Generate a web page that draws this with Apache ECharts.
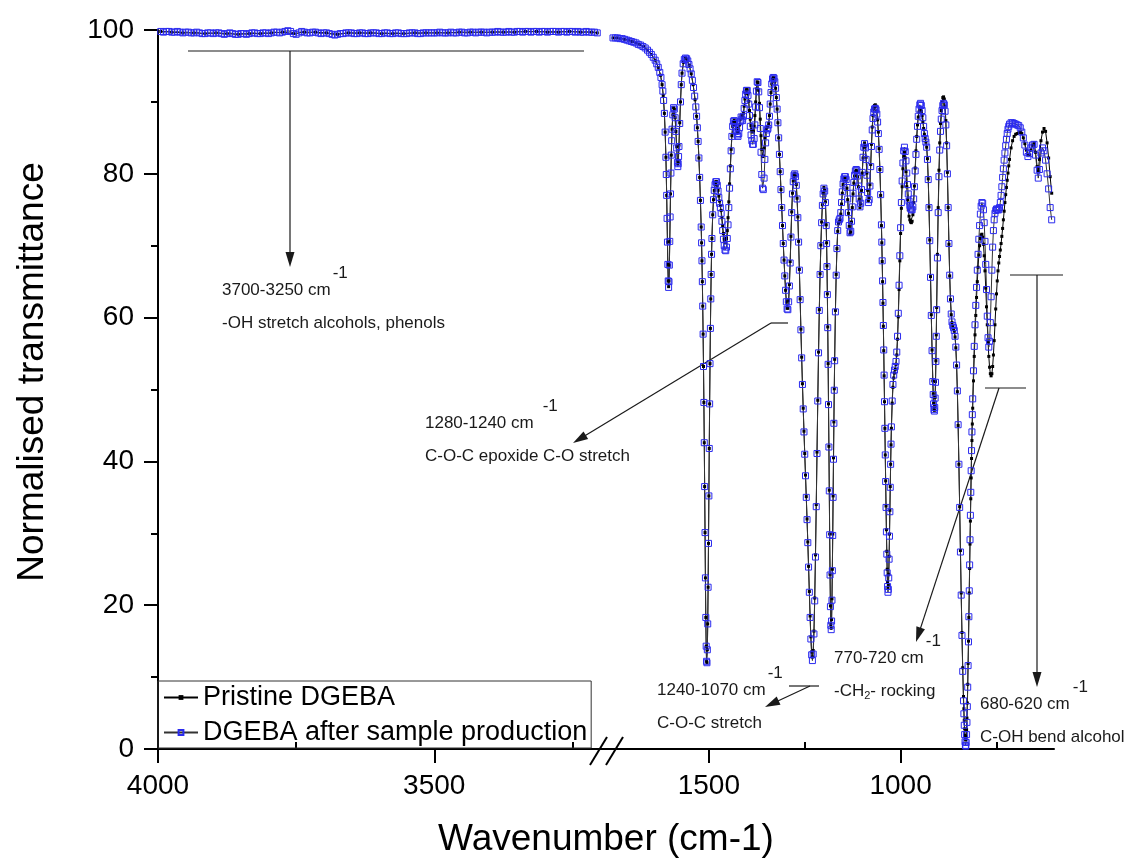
<!DOCTYPE html>
<html>
<head>
<meta charset="utf-8">
<title>FTIR spectra of DGEBA</title>
<script src="https://cdn.jsdelivr.net/npm/echarts@6/dist/echarts.min.js"></script>
<style>
  html, body { margin: 0; padding: 0; background: #ffffff; }
  #chart { width: 1129px; height: 862px; }
</style>
</head>
<body>
<div id="chart"></div>
<script>
// ---- Spectra: [wavenumber (cm-1), normalised transmittance] ----
// High-wavenumber window (4000-3200 cm-1)
const highAfter = [
  [3995,99.8],[3990,99.7],[3985,99.8],[3980,99.8],[3975,99.7],[3970,99.7],[3965,99.8],[3960,99.7],[3955,99.6],[3950,99.7],
  [3945,99.7],[3940,99.6],[3935,99.6],[3930,99.7],[3925,99.6],[3920,99.5],[3915,99.5],[3910,99.6],[3905,99.6],[3900,99.5],
  [3895,99.6],[3890,99.6],[3885,99.5],[3880,99.4],[3875,99.5],[3870,99.6],[3865,99.5],[3860,99.4],[3855,99.4],[3850,99.5],
  [3845,99.5],[3840,99.4],[3835,99.5],[3830,99.6],[3825,99.6],[3820,99.5],[3815,99.5],[3810,99.6],[3805,99.6],[3800,99.5],
  [3795,99.6],[3790,99.7],[3785,99.7],[3780,99.6],[3775,99.7],[3770,99.8],[3765,99.9],[3760,99.8],[3755,99.5],[3750,99.4],
  [3745,99.6],[3740,99.8],[3735,99.7],[3730,99.6],[3725,99.6],[3720,99.7],[3715,99.7],[3710,99.6],[3705,99.5],[3700,99.6],
  [3695,99.6],[3690,99.5],[3685,99.4],[3680,99.3],[3675,99.4],[3670,99.5],[3665,99.5],[3660,99.6],[3655,99.6],[3650,99.6],
  [3645,99.5],[3640,99.5],[3635,99.6],[3630,99.6],[3625,99.5],[3620,99.5],[3615,99.6],[3610,99.6],[3605,99.6],[3600,99.5],
  [3595,99.5],[3590,99.6],[3585,99.6],[3580,99.5],[3575,99.5],[3570,99.6],[3565,99.6],[3560,99.5],[3555,99.5],[3550,99.5],
  [3545,99.6],[3540,99.6],[3535,99.6],[3530,99.5],[3525,99.5],[3520,99.6],[3515,99.6],[3510,99.6],[3505,99.6],[3500,99.6],
  [3495,99.6],[3490,99.7],[3485,99.6],[3480,99.6],[3475,99.6],[3470,99.7],[3465,99.6],[3460,99.6],[3455,99.7],[3450,99.7],
  [3445,99.6],[3440,99.6],[3435,99.7],[3430,99.7],[3425,99.6],[3420,99.7],[3415,99.7],[3410,99.7],[3405,99.6],[3400,99.7],
  [3395,99.7],[3390,99.7],[3385,99.8],[3380,99.7],[3375,99.7],[3370,99.7],[3365,99.8],[3360,99.7],[3355,99.7],[3350,99.8],
  [3345,99.8],[3340,99.7],[3335,99.8],[3330,99.8],[3325,99.7],[3320,99.8],[3315,99.8],[3310,99.7],[3305,99.8],[3300,99.8],
  [3295,99.7],[3290,99.8],[3285,99.8],[3280,99.8],[3275,99.7],[3270,99.8],[3265,99.8],[3260,99.7],[3255,99.8],[3250,99.8],
  [3245,99.7],[3240,99.8],[3235,99.7],[3230,99.7],[3225,99.8],[3220,99.7],[3215,99.7],[3210,99.7],[3205,99.6]
];
const highPristine = [
  [3995,99.8],[3975,99.7],[3955,99.6],[3935,99.6],[3915,99.5],[3895,99.6],[3875,99.5],[3855,99.4],[3835,99.5],[3815,99.5],
  [3795,99.6],[3775,99.7],[3755,99.5],[3735,99.7],[3715,99.7],[3695,99.6],[3675,99.4],[3655,99.6],[3635,99.6],[3615,99.6],
  [3595,99.5],[3575,99.5],[3555,99.5],[3535,99.6],[3515,99.6],[3495,99.6],[3475,99.6],[3455,99.7],[3435,99.7],[3415,99.7],
  [3395,99.7],[3375,99.7],[3355,99.7],[3335,99.8],[3315,99.8],[3295,99.7],[3275,99.7],[3255,99.8],[3235,99.7],[3215,99.7],
  [3205,99.6]
];

// Fingerprint window (1750-600 cm-1)
const fpAfter = [
  [1750,98.9],[1744,98.9],[1738,98.9],[1732,98.8],[1726,98.8],[1720,98.7],[1714,98.6],[1708,98.5],[1702,98.4],[1696,98.3],
  [1690,98.2],[1684,98.0],[1678,97.9],[1672,97.7],[1666,97.5],[1660,97.2],[1655,96.9],[1650,96.6],[1645,96.2],[1640,95.8],
  [1636,95.3],[1632,94.8],[1628,94.1],[1625,93.4],[1622,92.4],[1620,91.5],[1618,90.2],[1616,88.4],[1614,85.8],[1612,82.3],
  [1611,79.9],[1610,77.0],[1609,73.8],[1608,70.5],[1607,67.4],[1606,65.1],[1605,64.2],[1604,65.0],[1603,67.3],[1602,70.6],
  [1601,74.0],[1600,77.2],[1599,80.1],[1598,82.6],[1597,84.6],[1596,86.2],[1594,88.2],[1592,89.2],[1590,89.0],[1588,87.8],
  [1586,85.9],[1584,83.6],[1582,81.6],[1581,81.0],[1580,81.4],[1579,82.4],[1578,83.8],[1576,87.0],[1574,90.0],[1572,92.4],
  [1570,94.0],[1567,95.3],[1564,95.9],[1561,96.1],[1558,96.0],[1555,95.7],[1552,95.2],[1549,94.6],[1546,93.9],[1543,93.0],
  [1540,92.0],[1537,90.8],[1534,89.3],[1532,88.0],[1530,86.4],[1528,84.5],[1526,82.2],[1524,79.5],[1522,76.3],[1520,72.6],
  [1519,70.4],[1518,67.9],[1517,65.0],[1516,61.6],[1515,57.7],[1514,53.2],[1513,48.2],[1512,42.6],[1511,36.5],[1510,30.1],
  [1509,23.8],[1508,18.3],[1507,14.3],[1506,12.2],[1505,12.0],[1504,13.8],[1503,17.4],[1502,22.5],[1501,28.6],[1500,35.2],
  [1499,41.8],[1498,48.0],[1497,53.6],[1496,58.5],[1495,62.6],[1494,66.0],[1493,68.8],[1492,71.0],[1490,74.3],[1488,76.4],
  [1486,77.7],[1484,78.5],[1482,78.9],[1480,78.9],[1478,78.4],[1476,77.6],[1474,76.7],[1472,75.9],[1470,75.3],[1468,74.5],
  [1466,73.4],[1464,72.1],[1462,70.9],[1460,70.0],[1458,69.4],[1456,69.3],[1454,69.8],[1452,71.0],[1450,72.9],[1448,75.3],
  [1446,78.0],[1444,80.7],[1442,83.2],[1440,85.2],[1438,86.6],[1436,87.3],[1434,87.4],[1432,87.0],[1430,86.4],[1428,85.9],
  [1426,85.4],[1424,85.2],[1422,85.6],[1420,86.4],[1418,87.3],[1416,87.9],[1414,87.6],[1412,87.4],[1410,88.0],[1408,89.1],
  [1406,90.2],[1404,91.1],[1402,91.6],[1400,91.6],[1398,90.9],[1396,89.7],[1394,88.1],[1392,86.6],[1390,85.4],[1388,84.6],
  [1386,84.1],[1384,84.1],[1382,84.9],[1380,86.8],[1378,89.3],[1376,91.5],[1374,92.8],[1372,92.7],[1370,91.4],[1368,89.2],
  [1366,86.3],[1364,83.0],[1362,79.9],[1360,78.0],[1358,77.8],[1356,79.4],[1354,82.0],[1352,84.3],[1350,85.6],[1348,86.1],
  [1346,86.3],[1344,86.8],[1342,88.0],[1340,89.7],[1338,91.3],[1336,92.5],[1334,93.2],[1332,93.4],[1330,93.3],[1328,92.8],
  [1326,91.9],[1324,90.6],[1322,89.0],[1320,87.1],[1318,85.0],[1316,82.7],[1314,80.3],[1312,77.8],[1310,75.3],[1308,72.8],
  [1306,70.3],[1304,68.0],[1302,65.8],[1300,63.8],[1298,62.2],[1296,61.2],[1294,61.1],[1292,62.2],[1290,64.4],[1288,67.6],
  [1286,71.2],[1284,74.6],[1282,77.2],[1280,78.9],[1278,79.8],[1276,80.0],[1274,79.6],[1272,78.4],[1270,76.5],[1268,73.9],
  [1266,70.5],[1264,66.6],[1262,62.5],[1260,58.3],[1258,54.4],[1256,50.7],[1254,47.3],[1252,44.1],[1250,41.0],[1248,38.0],
  [1246,35.0],[1244,31.9],[1242,28.7],[1240,25.3],[1238,21.8],[1236,18.3],[1234,15.3],[1232,13.1],[1230,12.3],[1228,13.2],
  [1226,16.0],[1224,20.6],[1222,26.7],[1220,33.7],[1218,41.1],[1216,48.4],[1214,55.1],[1212,61.0],[1210,66.0],[1208,70.0],
  [1206,73.2],[1204,75.6],[1202,77.2],[1200,78.0],[1198,77.6],[1196,76.0],[1194,72.8],[1193,70.3],[1192,67.1],[1191,63.2],
  [1190,58.6],[1189,53.5],[1188,47.9],[1187,42.0],[1186,35.9],[1185,29.8],[1184,24.2],[1183,19.8],[1182,17.2],[1181,16.6],
  [1180,17.8],[1179,20.7],[1178,24.8],[1177,29.7],[1176,35.0],[1175,40.3],[1174,45.3],[1173,49.9],[1172,54.0],[1170,60.8],
  [1168,65.9],[1166,69.6],[1164,72.1],[1162,73.3],[1160,73.6],[1158,73.8],[1156,74.6],[1154,76.0],[1152,77.5],[1150,78.6],
  [1148,79.3],[1146,79.6],[1144,79.6],[1142,79.2],[1140,78.1],[1138,76.5],[1136,74.6],[1134,72.8],[1132,71.8],[1130,72.0],
  [1128,73.4],[1126,75.4],[1124,77.3],[1122,78.8],[1120,79.8],[1118,80.4],[1116,80.6],[1114,80.5],[1112,79.7],[1110,78.3],
  [1108,76.5],[1106,75.4],[1104,75.9],[1102,77.8],[1100,80.2],[1098,82.3],[1096,83.7],[1094,84.2],[1092,83.6],[1090,82.0],
  [1088,79.8],[1086,77.4],[1084,76.0],[1082,76.4],[1080,78.3],[1078,81.0],[1076,83.8],[1074,86.1],[1072,87.7],[1070,88.6],
  [1068,89.0],[1066,89.1],[1064,88.9],[1062,88.3],[1060,87.2],[1058,85.6],[1056,83.4],[1054,80.6],[1052,77.1],[1050,72.9],
  [1049,70.5],[1048,67.9],[1047,65.1],[1046,62.1],[1045,58.9],[1044,55.5],[1043,52.0],[1042,48.3],[1041,44.6],[1040,40.9],
  [1039,37.2],[1038,33.6],[1037,30.2],[1036,27.1],[1035,24.5],[1034,22.6],[1033,21.8],[1032,22.2],[1031,23.8],[1030,26.4],
  [1029,29.6],[1028,33.0],[1027,36.4],[1026,39.6],[1025,42.4],[1024,44.8],[1022,48.4],[1020,50.7],[1018,52.0],[1016,52.7],
  [1014,53.2],[1012,53.9],[1010,55.2],[1008,57.4],[1006,60.6],[1004,64.5],[1002,68.6],[1000,72.5],[998,76.0],[996,79.0],
  [994,81.5],[992,83.2],[990,83.7],[988,83.1],[986,81.8],[984,80.1],[982,78.5],[980,77.2],[978,76.2],[976,75.6],
  [974,75.2],[972,75.0],[970,75.0],[968,75.4],[966,76.5],[964,78.2],[962,80.4],[960,82.7],[958,84.8],[956,86.6],
  [954,88.0],[952,89.0],[950,89.6],[948,89.8],[946,89.5],[944,88.8],[942,87.8],[940,86.6],[938,85.6],[936,84.9],
  [934,84.4],[932,83.7],[930,82.0],[928,79.2],[926,75.3],[924,70.7],[922,65.6],[920,60.3],[918,55.4],[916,51.1],
  [915,49.3],[914,48.0],[913,47.2],[912,47.0],[911,47.5],[910,48.8],[909,51.0],[908,53.9],[907,57.4],[906,61.1],
  [904,68.3],[902,74.6],[900,79.6],[898,83.3],[896,85.9],[894,87.6],[892,88.8],[890,89.5],[888,89.8],[886,89.6],
  [884,88.7],[882,86.8],[880,83.9],[878,80.0],[876,75.3],[874,70.3],[872,65.9],[870,62.6],[868,60.5],[866,59.4],
  [864,58.9],[862,58.6],[860,58.2],[858,57.4],[856,55.9],[854,53.4],[852,49.8],[850,45.1],[848,39.6],[846,33.6],
  [844,27.4],[842,21.4],[840,15.8],[838,10.8],[836,6.7],[835,4.9],[834,3.3],[833,2.0],[832,1.0],[831,0.5],
  [830,0.4],[829,0.9],[828,2.0],[827,3.7],[826,5.9],[825,8.6],[824,11.6],[823,14.9],[822,18.4],[821,22.0],
  [820,25.6],[819,29.1],[818,32.5],[817,35.7],[816,38.7],[815,41.5],[814,44.1],[813,46.5],[812,48.7],[810,52.6],
  [808,56.0],[806,59.0],[804,61.7],[802,64.2],[800,66.6],[798,68.8],[796,70.9],[794,72.8],[792,74.4],[790,75.5],
  [788,76.0],[786,75.9],[784,75.0],[782,73.2],[780,70.6],[778,67.4],[776,63.9],[774,60.2],[772,57.2],[770,55.9],
  [768,56.7],[766,59.3],[764,62.9],[762,66.6],[760,69.8],[758,72.1],[756,73.6],[754,74.5],[752,74.9],[750,75.1],
  [748,75.1],[746,75.0],[744,75.0],[742,75.3],[740,76.0],[738,77.0],[736,78.2],[734,79.5],[732,80.7],[730,81.9],
  [728,82.9],[726,83.9],[724,84.8],[722,85.6],[720,86.2],[718,86.6],[716,86.9],[712,87.1],[708,87.1],[704,87.0],
  [700,86.9],[696,86.8],[692,86.7],[688,86.4],[684,85.8],[680,85.0],[676,84.0],[672,83.0],[668,82.4],[664,82.8],
  [660,83.6],[656,84.0],[652,84.1],[648,82.6],[644,80.5],[641,79.4],[638,80.6],[634,82.9],[630,83.6],[626,83.2],
  [622,81.9],[618,80.0],[614,77.9],[610,75.3],[606,73.6]
];
const fpPristine = [
  [1750,98.9],[1740,98.9],[1730,98.8],[1720,98.7],[1710,98.6],[1700,98.4],[1690,98.2],[1680,98.0],[1670,97.7],[1660,97.2],
  [1650,96.6],[1640,95.8],[1632,94.8],[1626,93.7],[1622,92.4],[1619,90.9],[1616,88.4],[1614,85.8],[1612,82.3],[1610,77.0],
  [1608,70.5],[1607,67.4],[1606,65.1],[1605,64.3],[1604,65.1],[1603,67.3],[1602,70.6],[1600,77.2],[1598,82.6],[1596,86.2],
  [1594,88.2],[1592,89.2],[1590,89.0],[1588,87.8],[1586,85.9],[1584,83.8],[1582,81.9],[1581,81.4],[1580,81.7],[1578,84.0],
  [1576,87.1],[1574,90.0],[1572,92.4],[1570,94.0],[1566,95.5],[1561,96.1],[1556,95.9],[1551,95.1],[1546,93.9],[1541,92.4],
  [1536,90.3],[1532,88.0],[1530,86.4],[1528,84.5],[1526,82.2],[1524,79.5],[1522,76.3],[1520,72.6],[1519,70.4],[1518,67.9],
  [1517,65.0],[1516,61.6],[1515,57.7],[1514,53.2],[1513,48.2],[1512,42.6],[1511,36.5],[1510,30.1],[1509,23.8],[1508,18.3],
  [1507,14.3],[1506,12.2],[1505,12.0],[1504,13.8],[1503,17.4],[1502,22.5],[1501,28.6],[1500,35.2],[1499,41.8],[1498,48.0],
  [1497,53.6],[1496,58.5],[1495,62.6],[1494,66.0],[1493,68.8],[1492,71.0],[1490,74.3],[1488,76.4],[1486,77.7],[1484,78.5],
  [1482,78.9],[1480,78.9],[1478,78.4],[1476,77.7],[1474,76.9],[1472,76.2],[1470,75.6],[1468,74.9],[1466,73.9],[1464,72.8],
  [1462,71.7],[1460,70.9],[1458,70.5],[1456,70.5],[1454,71.0],[1452,72.1],[1450,73.9],[1448,76.1],[1446,78.6],[1444,81.1],
  [1442,83.4],[1440,85.3],[1438,86.6],[1436,87.3],[1434,87.5],[1432,87.2],[1430,86.7],[1428,86.3],[1426,85.9],[1424,85.8],
  [1422,86.1],[1420,86.8],[1418,87.6],[1416,88.1],[1414,87.9],[1412,87.8],[1410,88.4],[1408,89.4],[1406,90.4],[1404,91.2],
  [1402,91.7],[1400,91.7],[1398,91.1],[1396,90.1],[1394,88.8],[1392,87.6],[1390,86.7],[1388,86.1],[1386,85.8],[1384,85.9],
  [1382,86.6],[1380,88.1],[1378,90.0],[1376,91.8],[1374,92.8],[1372,92.7],[1370,91.6],[1368,89.8],[1366,87.6],[1364,85.3],
  [1362,83.4],[1360,82.4],[1358,82.5],[1356,83.6],[1354,85.0],[1352,86.0],[1350,86.4],[1348,86.5],[1346,86.6],[1344,87.0],
  [1342,88.1],[1340,89.7],[1338,91.3],[1336,92.5],[1334,93.2],[1332,93.4],[1330,93.3],[1328,92.8],[1326,91.9],[1324,90.6],
  [1322,89.0],[1320,87.1],[1318,85.0],[1316,82.7],[1314,80.3],[1312,77.8],[1310,75.3],[1308,72.8],[1306,70.3],[1304,68.0],
  [1302,65.8],[1300,63.8],[1298,62.2],[1296,61.3],[1294,61.3],[1292,62.4],[1290,64.6],[1288,67.8],[1286,71.3],[1284,74.7],
  [1282,77.3],[1280,79.0],[1278,79.9],[1276,80.1],[1274,79.7],[1272,78.5],[1270,76.6],[1268,74.0],[1266,70.6],[1264,66.7],
  [1262,62.6],[1260,58.4],[1258,54.5],[1256,50.8],[1254,47.4],[1252,44.2],[1250,41.1],[1248,38.1],[1246,35.1],[1244,32.0],
  [1242,28.8],[1240,25.4],[1238,21.9],[1236,18.5],[1234,15.6],[1232,13.5],[1230,12.8],[1228,13.7],[1226,16.4],[1224,21.0],
  [1222,27.0],[1220,34.0],[1218,41.3],[1216,48.5],[1214,55.2],[1212,61.1],[1210,66.1],[1208,70.1],[1206,73.3],[1204,75.7],
  [1202,77.3],[1200,78.1],[1198,77.7],[1196,76.1],[1194,72.9],[1193,70.4],[1192,67.2],[1191,63.3],[1190,58.7],[1189,53.6],
  [1188,48.0],[1187,42.1],[1186,36.0],[1185,29.9],[1184,24.3],[1183,19.9],[1182,17.3],[1181,16.8],[1180,18.0],[1179,20.9],
  [1178,25.0],[1177,29.9],[1176,35.2],[1175,40.5],[1174,45.5],[1173,50.1],[1172,54.2],[1170,61.0],[1168,66.0],[1166,69.6],
  [1164,72.0],[1162,73.1],[1160,73.3],[1158,73.6],[1156,74.4],[1154,75.8],[1152,77.3],[1150,78.5],[1148,79.2],[1146,79.5],
  [1144,79.5],[1142,79.1],[1140,78.0],[1138,76.4],[1136,74.5],[1134,72.7],[1132,71.6],[1130,71.9],[1128,73.3],[1126,75.3],
  [1124,77.2],[1122,78.7],[1120,79.7],[1118,80.3],[1116,80.5],[1114,80.4],[1112,79.6],[1110,78.2],[1108,76.4],[1106,75.3],
  [1104,75.8],[1102,77.7],[1100,80.1],[1098,82.2],[1096,83.7],[1094,84.3],[1092,83.8],[1090,82.3],[1088,80.1],[1086,77.7],
  [1084,76.3],[1082,76.6],[1080,78.5],[1078,81.3],[1076,84.1],[1074,86.5],[1072,88.1],[1070,89.1],[1068,89.5],[1066,89.6],
  [1064,89.4],[1062,88.7],[1060,87.5],[1058,85.8],[1056,83.5],[1054,80.6],[1052,77.0],[1050,72.8],[1049,70.4],[1048,67.8],
  [1047,65.0],[1046,62.0],[1045,58.8],[1044,55.4],[1043,51.9],[1042,48.3],[1041,44.6],[1040,40.9],[1039,37.3],[1038,33.8],
  [1037,30.5],[1036,27.5],[1035,25.0],[1034,23.2],[1033,22.4],[1032,22.8],[1031,24.3],[1030,26.8],[1029,29.9],[1028,33.2],
  [1027,36.5],[1026,39.6],[1025,42.3],[1024,44.6],[1022,48.1],[1020,50.3],[1018,51.6],[1016,52.3],[1014,52.8],[1012,53.5],
  [1010,54.8],[1008,57.0],[1006,60.1],[1004,63.9],[1002,67.9],[1000,71.7],[998,75.2],[996,78.2],[994,80.7],[992,82.4],
  [990,83.0],[988,82.2],[986,80.3],[984,78.2],[982,76.4],[980,75.0],[978,74.1],[976,73.6],[974,73.3],[972,73.2],
  [970,73.4],[968,74.3],[966,76.0],[964,78.3],[962,80.8],[960,83.2],[958,85.2],[956,86.8],[954,87.9],[952,88.6],
  [950,89.0],[948,89.0],[946,88.7],[944,88.1],[942,87.2],[940,86.3],[938,85.5],[936,84.9],[934,84.4],[932,83.7],
  [930,82.1],[928,79.3],[926,75.4],[924,70.8],[922,65.7],[920,60.4],[918,55.5],[916,51.2],[915,49.4],[914,48.1],
  [913,47.3],[912,47.1],[911,47.6],[910,48.9],[909,51.1],[908,54.0],[907,57.6],[906,61.4],[904,68.8],[902,75.3],
  [900,80.5],[898,84.3],[896,87.0],[894,88.8],[892,90.0],[890,90.6],[888,90.7],[886,90.4],[884,89.4],[882,87.4],
  [880,84.3],[878,80.2],[876,75.3],[874,70.2],[872,65.8],[870,62.5],[868,60.4],[866,59.3],[864,58.8],[862,58.5],
  [860,58.1],[858,57.3],[856,55.8],[854,53.3],[852,49.7],[850,45.0],[848,39.6],[846,33.7],[844,27.6],[842,21.7],
  [840,16.2],[838,11.3],[836,7.3],[835,5.6],[834,4.0],[833,2.8],[832,1.9],[831,1.4],[830,1.3],[829,1.7],
  [828,2.7],[827,4.3],[826,6.4],[825,9.0],[824,11.9],[823,15.0],[822,18.3],[821,21.7],[820,25.1],[819,28.5],
  [818,31.7],[817,34.8],[816,37.7],[815,40.4],[814,42.9],[813,45.2],[812,47.4],[810,51.2],[808,54.6],[806,57.6],
  [804,60.3],[802,62.8],[800,65.0],[798,67.0],[796,68.7],[794,70.0],[792,71.0],[790,71.5],[788,71.6],[786,71.2],
  [784,70.2],[782,68.6],[780,66.5],[778,64.1],[776,61.5],[774,59.0],[772,56.6],[770,54.6],[768,53.1],[766,52.2],
  [764,51.9],[762,52.2],[760,53.2],[758,54.8],[756,56.8],[754,59.0],[752,61.2],[750,63.3],[748,65.1],[746,66.5],
  [744,67.6],[742,68.5],[740,69.4],[738,70.3],[736,71.3],[734,72.4],[732,73.6],[730,74.8],[728,76.0],[726,77.1],
  [724,78.1],[722,79.1],[720,80.1],[718,81.1],[716,82.0],[712,83.6],[708,84.6],[704,85.2],[700,85.5],[696,85.6],
  [692,85.7],[688,85.8],[684,85.6],[680,85.0],[676,84.2],[672,83.3],[668,82.7],[664,82.7],[660,83.3],[656,84.0],
  [652,84.3],[648,83.0],[644,81.0],[641,80.4],[638,82.0],[634,84.6],[630,85.8],[626,86.3],[622,85.9],[618,84.3],
  [614,82.2],[610,79.6],[606,77.3]
];

// ---- Axis ticks ----
const highMajorTicks = [4000, 3500];
const highMinorTicks = [3750, 3250];
const fpMajorTicks = [1500, 1000];
const fpMinorTicks = [1250, 750];

const seriesNames = ['Pristine DGEBA', 'DGEBA after sample production'];

// ---- Styling ----
const FONT = '"Liberation Sans", Arial, Helvetica, sans-serif';
const INK = '#1a1a1a';
const BLUE = '#2b2bef';
const ANN_SIZE = 17;

const chart = echarts.init(document.getElementById('chart'), null, { renderer: 'canvas' });

function xAxisMajor(gridIndex, min, max, ticks) {
  return {
    type: 'value', gridIndex, min, max, inverse: true,
    axisLine: { show: true, onZero: false, lineStyle: { color: '#000', width: 2 } },
    axisTick: { show: true, customValues: ticks, length: 14, lineStyle: { color: '#000', width: 2 } },
    axisLabel: {
      show: true, customValues: ticks, fontSize: 28, fontFamily: FONT, color: '#000', margin: 23,
      formatter: v => String(v)
    },
    splitLine: { show: false }
  };
}
function xAxisMinor(gridIndex, min, max, ticks) {
  return {
    type: 'value', gridIndex, min, max, inverse: true,
    axisLine: { show: false },
    axisTick: { show: true, customValues: ticks, length: 7, lineStyle: { color: '#000', width: 2 } },
    axisLabel: { show: false },
    splitLine: { show: false }
  };
}

// ---- Text helpers for the band assignments ----
const measure = document.createElement('canvas').getContext('2d');
function widthOf(str, size) {
  measure.font = size + 'px ' + FONT;
  return measure.measureText(str).width;
}
function txt(str, x, y, size) {
  return {
    type: 'text', x, y, silent: true,
    style: { text: str, fill: INK, fontSize: size, fontFamily: FONT, align: 'left', verticalAlign: 'middle' }
  };
}
function seg(x1, y1, x2, y2, w) {
  return { type: 'line', silent: true, shape: { x1, y1, x2, y2 }, style: { stroke: INK, lineWidth: w || 1.2 } };
}
function arrow(x1, y1, x2, y2) {
  const dx = x2 - x1, dy = y2 - y1, len = Math.hypot(dx, dy);
  const ux = dx / len, uy = dy / len;
  const headLen = 15, headHalf = 4.5;
  const bx = x2 - ux * headLen, by = y2 - uy * headLen;
  const px = -uy * headHalf, py = ux * headHalf;
  return [
    seg(x1, y1, bx + ux * 2, by + uy * 2),
    { type: 'polygon', silent: true, shape: { points: [[x2, y2], [bx + px, by + py], [bx - px, by - py]] }, style: { fill: INK } }
  ];
}

// Band assignments: wavenumber range with superscript, assignment line, leader bar and arrow
const callouts = [
  { range: '3700-3250 cm', note: ['-OH stretch alcohols, phenols'], at: [222, 290], supGap: 2,
    bar: [188, 584, 51], from: [290, 51], tip: [290, 267] },
  { range: '1280-1240 cm', note: ['C-O-C epoxide C-O stretch'], at: [425, 423], supGap: 9,
    bar: [771, 788, 323], from: [771, 323], tip: [573, 443] },
  { range: '1240-1070 cm', note: ['C-O-C stretch'], at: [657, 690], supGap: 2,
    bar: [789, 819, 686], from: [810, 686], tip: [765, 707] },
  { range: '770-720 cm', note: ['-CH', '2', '- rocking'], at: [834, 658], supGap: 2,
    bar: [985, 1026, 388], from: [999, 388], tip: [916, 642] },
  { range: '680-620 cm', note: ['C-OH bend alcohol'], at: [980, 704], supGap: 3,
    bar: [1010, 1063, 275], from: [1037, 275], tip: [1037, 687] }
];

function calloutGraphics() {
  const out = [];
  callouts.forEach(c => {
    const [tx, ty] = c.at;
    out.push(txt(c.range, tx, ty, ANN_SIZE));
    out.push(txt('-1', tx + widthOf(c.range, ANN_SIZE) + c.supGap, ty - 17, ANN_SIZE));
    const ny = ty + 33;
    if (c.note.length === 1) {
      out.push(txt(c.note[0], tx, ny, ANN_SIZE));
    } else {
      // chemical group with subscript
      const w0 = widthOf(c.note[0], ANN_SIZE);
      out.push(txt(c.note[0], tx, ny, ANN_SIZE));
      out.push(txt(c.note[1], tx + w0, ny + 5, 11));
      out.push(txt(c.note[2], tx + w0 + widthOf(c.note[1], 11), ny, ANN_SIZE));
    }
    out.push(seg(c.bar[0], c.bar[2], c.bar[1], c.bar[2]));
    arrow(c.from[0], c.from[1], c.tip[0], c.tip[1]).forEach(e => out.push(e));
  });
  return out;
}

// Axis break between the two windows
function breakGraphics() {
  return [
    { type: 'line', silent: true, shape: { x1: 599, y1: 749, x2: 614, y2: 749 }, style: { stroke: '#000', lineWidth: 2 } },
    { type: 'line', silent: true, shape: { x1: 590, y1: 765, x2: 607, y2: 737 }, style: { stroke: '#000', lineWidth: 2 } },
    { type: 'line', silent: true, shape: { x1: 606, y1: 765, x2: 623, y2: 737 }, style: { stroke: '#000', lineWidth: 2 } }
  ];
}

function lineSeries(name, data, xi, pristine) {
  return {
    name, type: 'line', data, xAxisIndex: xi, yAxisIndex: xi,
    clip: false, smooth: false, animation: false,
    symbol: 'rect',
    symbolSize: pristine ? 3 : 6,
    itemStyle: pristine
      ? { color: '#000' }
      : { color: 'rgba(255,255,255,0)', borderColor: BLUE, borderWidth: 1 },
    lineStyle: { color: pristine ? '#000' : '#333', width: 1 },
    emphasis: { disabled: true }
  };
}

const option = {
  animation: false,
  backgroundColor: '#ffffff',
  textStyle: { fontFamily: FONT },
  grid: [
    { left: 158, top: 30, width: 442, height: 719 },
    { left: 613, top: 30, width: 441, height: 719 }
  ],
  xAxis: [
    xAxisMajor(0, 3200, 4000, highMajorTicks),
    xAxisMajor(1, 600, 1750, fpMajorTicks),
    xAxisMinor(0, 3200, 4000, highMinorTicks),
    xAxisMinor(1, 600, 1750, fpMinorTicks)
  ],
  yAxis: [
    {
      type: 'value', gridIndex: 0, min: 0, max: 100, interval: 20,
      axisLine: { show: true, lineStyle: { color: '#000', width: 2 } },
      axisTick: { show: true, length: 14, lineStyle: { color: '#000', width: 2 } },
      minorTick: { show: true, splitNumber: 2, length: 7, lineStyle: { color: '#000', width: 2 } },
      axisLabel: { fontSize: 28, fontFamily: FONT, color: '#000', margin: 24 },
      splitLine: { show: false }, minorSplitLine: { show: false }
    },
    { type: 'value', gridIndex: 1, min: 0, max: 100, show: false, splitLine: { show: false } }
  ],
  legend: {
    data: seriesNames,
    orient: 'vertical',
    left: 158, top: 681,
    padding: [3, 4, 2, 5],
    itemGap: 8,
    itemWidth: 34, itemHeight: 6,
    selectedMode: false,
    borderColor: '#333', borderWidth: 1,
    textStyle: { fontSize: 27, fontFamily: FONT, color: '#000' }
  },
  series: [
    lineSeries(seriesNames[0], highPristine, 0, true),
    lineSeries(seriesNames[0], fpPristine, 1, true),
    lineSeries(seriesNames[1], highAfter, 0, false),
    lineSeries(seriesNames[1], fpAfter, 1, false)
  ],
  graphic: [].concat(
    breakGraphics(),
    calloutGraphics(),
    [
      { type: 'text', x: 33, y: 372, rotation: Math.PI / 2, silent: true,
        style: { text: 'Normalised transmittance', fill: '#000', fontSize: 37, fontFamily: FONT, align: 'center', verticalAlign: 'middle' } },
      { type: 'text', x: 606, y: 840, silent: true,
        style: { text: 'Wavenumber (cm-1)', fill: '#000', fontSize: 37, fontFamily: FONT, align: 'center', verticalAlign: 'middle' } }
    ]
  )
};

chart.setOption(option);
</script>
</body>
</html>
